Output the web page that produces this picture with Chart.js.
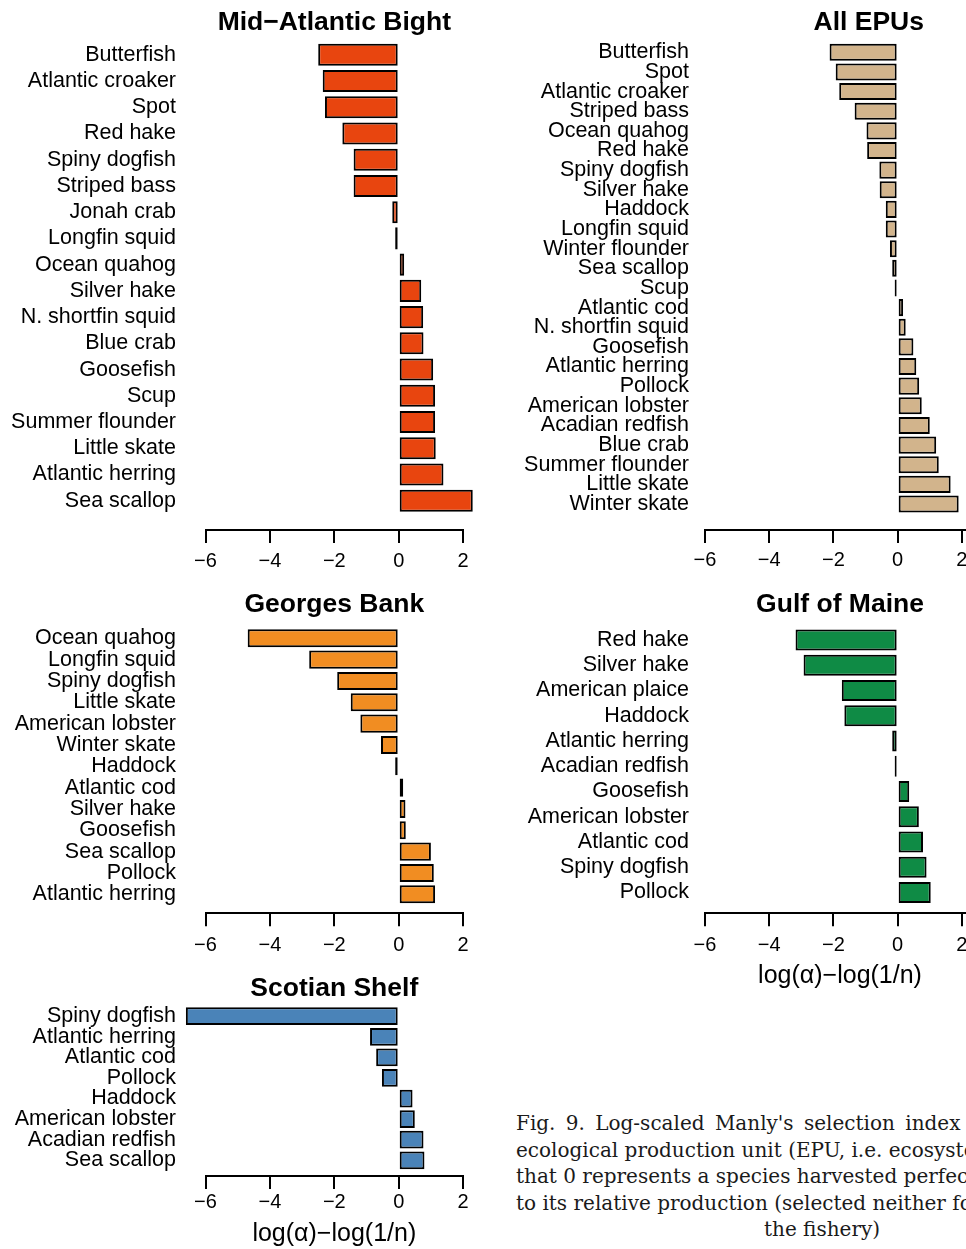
<!DOCTYPE html>
<html lang="en">
<head>
<meta charset="UTF-8">
<title>Log-scaled Manly's selection index by EPU</title>
<script src="https://cdn.jsdelivr.net/npm/chart.js@4"></script>
<style>
  html, body { margin: 0; padding: 0; background: #fff; overflow: hidden; }
  body { width: 966px; height: 1249px; position: relative; }
  canvas { position: absolute; }
  .caption {
    position: absolute; left: 516px;
    font-family: "DejaVu Serif", serif; font-size: 20px; line-height: 26.5px;
    color: #1a1a1a; white-space: nowrap;
  }
</style>
</head>
<body>
<canvas id="mab"></canvas>
<canvas id="epu"></canvas>
<canvas id="gb"></canvas>
<canvas id="gom"></canvas>
<canvas id="ss"></canvas>

<div class="caption" style="top:1110px">
  <div style="word-spacing:4px">Fig. 9. Log-scaled Manly's selection index (α) for each species in each</div>
  <div>ecological production unit (EPU, i.e. ecosystem). Note</div>
  <div>that 0 represents a species harvested perfectly in proportion</div>
  <div>to its relative production (selected neither for nor against by</div>
  <div style="padding-left:248px">the fishery)</div>
</div>

<script>
  // x axis ticks shared by all panels
  const tickValues = [-6, -4, -2, 0, 2];

  // Mid-Atlantic Bight
  const mabSpecies = ['Butterfish', 'Atlantic croaker', 'Spot', 'Red hake', 'Spiny dogfish', 'Striped bass',
    'Jonah crab', 'Longfin squid', 'Ocean quahog', 'Silver hake', 'N. shortfin squid', 'Blue crab',
    'Goosefish', 'Scup', 'Summer flounder', 'Little skate', 'Atlantic herring', 'Sea scallop'];
  const mabValues = [-2.50, -2.36, -2.29, -1.75, -1.40, -1.40, -0.20, -0.11, 0.17, 0.70, 0.76, 0.77,
    1.07, 1.13, 1.13, 1.15, 1.39, 2.30];

  // All EPUs
  const epuSpecies = ['Butterfish', 'Spot', 'Atlantic croaker', 'Striped bass', 'Ocean quahog', 'Red hake',
    'Spiny dogfish', 'Silver hake', 'Haddock', 'Longfin squid', 'Winter flounder', 'Sea scallop', 'Scup',
    'Atlantic cod', 'N. shortfin squid', 'Goosefish', 'Atlantic herring', 'Pollock', 'American lobster',
    'Acadian redfish', 'Blue crab', 'Summer flounder', 'Little skate', 'Winter skate'];
  const epuValues = [-2.12, -1.93, -1.82, -1.34, -0.97, -0.95, -0.57, -0.56, -0.37, -0.37, -0.24, -0.17, -0.04,
    0.17, 0.25, 0.49, 0.58, 0.67, 0.75, 1.00, 1.20, 1.28, 1.65, 1.90];

  // Georges Bank
  const gbSpecies = ['Ocean quahog', 'Longfin squid', 'Spiny dogfish', 'Little skate', 'American lobster',
    'Winter skate', 'Haddock', 'Atlantic cod', 'Silver hake', 'Goosefish', 'Sea scallop', 'Pollock',
    'Atlantic herring'];
  const gbValues = [-4.69, -2.78, -1.91, -1.49, -1.19, -0.55, -0.11, 0.14, 0.21, 0.22, 1.00, 1.09, 1.13];

  // Gulf of Maine
  const gomSpecies = ['Red hake', 'Silver hake', 'American plaice', 'Haddock', 'Atlantic herring',
    'Acadian redfish', 'Goosefish', 'American lobster', 'Atlantic cod', 'Spiny dogfish', 'Pollock'];
  const gomValues = [-3.18, -2.93, -1.74, -1.66, -0.17, -0.03, 0.36, 0.66, 0.79, 0.90, 1.03];

  // Scotian Shelf
  const ssSpecies = ['Spiny dogfish', 'Atlantic herring', 'Atlantic cod', 'Pollock', 'Haddock',
    'American lobster', 'Acadian redfish', 'Sea scallop'];
  const ssValues = [-6.61, -0.89, -0.70, -0.52, 0.43, 0.50, 0.77, 0.80];

  const xLabel = 'log(\u03b1)\u2212log(1/n)';

  const SANS = '"Liberation Sans", Arial, Helvetica, sans-serif';
  const TITLE_SIZE = 26.5;
  const LABEL_SIZE = 21.5;
  const TICK_SIZE = 20;
  const XTITLE_SIZE = 25;
  const TICK_LEN = 13;

  // page layout of each panel (pixels on the page)
  const panels = [
    { id: 'mab', title: 'Mid\u2212Atlantic Bight', labels: mabSpecies, values: mabValues, color: '#E8450F',
      left: 0, top: 0, width: 483, height: 590, yWidth: 205.5, unit: 32.2, labelPad: 29.5, xMax: 2,
      titleY: 22.8, firstBar: 54.7, lastBar: 500.8, axisY: 530, tickY: 561, barPct: 0.84 },
    { id: 'epu', title: 'All EPUs', labels: epuSpecies, values: epuValues, color: '#D2B48C',
      left: 483, top: 0, width: 600, height: 590, yWidth: 222, unit: 32.11, labelPad: 16, xMax: 4.2,
      titleY: 22.8, firstBar: 52.3, lastBar: 504, axisY: 530, tickY: 560.5, barPct: 0.87 },
    { id: 'gb', title: 'Georges Bank', labels: gbSpecies, values: gbValues, color: '#F18D22',
      left: 0, top: 585, width: 483, height: 380, yWidth: 205.5, unit: 32.2, labelPad: 29.5, xMax: 2,
      titleY: 605, firstBar: 638.3, lastBar: 894.3, axisY: 913.3, tickY: 945, barPct: 0.85 },
    { id: 'gom', title: 'Gulf of Maine', labels: gomSpecies, values: gomValues, color: '#0F8B45',
      left: 483, top: 585, width: 530, height: 420, yWidth: 222, unit: 32.11, labelPad: 16, xMax: 2.41,
      titleY: 605, firstBar: 640, lastBar: 892.5, axisY: 913.3, tickY: 945, barPct: 0.84,
      xTitle: xLabel, xTitleY: 976 },
    { id: 'ss', title: 'Scotian Shelf', labels: ssSpecies, values: ssValues, color: '#4A83B8',
      left: 0, top: 965, width: 483, height: 290, yWidth: 205.5, unit: 32.2, labelPad: 29.5, xMax: 2,
      titleY: 988.3, firstBar: 1016.2, lastBar: 1160.3, axisY: 1176, tickY: 1202.5, barPct: 0.86,
      xTitle: xLabel, xTitleY: 1234.5 }
  ];

  function makeChart(p) {
    const cv = document.getElementById(p.id);
    cv.width = p.width;
    cv.height = p.height;
    cv.style.left = p.left + 'px';
    cv.style.top = p.top + 'px';

    const n = p.labels.length;
    const step = (p.lastBar - p.firstBar) / (n - 1);
    const chartTop = p.firstBar - step / 2;
    const chartRight = p.yWidth + (p.xMax + 6) * p.unit;
    const titleLH = TITLE_SIZE * 1.2;
    const titlePadTop = p.titleY - p.top - titleLH / 2;
    const titlePadBottom = chartTop - p.top - titlePadTop - titleLH;
    const xHeight = p.top + p.height - p.axisY;
    const tickPad = p.tickY - p.axisY - TICK_LEN - TICK_SIZE * 1.2 / 2;
    const xTitlePadBottom = p.xTitle ? p.top + p.height - p.xTitleY - XTITLE_SIZE * 1.2 / 2 : 0;

    return new Chart(cv, {
      type: 'bar',
      data: {
        datasets: [{
          data: p.values.map((v, i) => ({ x: v, y: i })),
          backgroundColor: p.color,
          borderColor: '#000',
          borderWidth: 2,
          borderSkipped: false,
          minBarLength: 3,
          barPercentage: p.barPct,
          categoryPercentage: 1,
          clip: false
        }]
      },
      options: {
        indexAxis: 'y',
        responsive: false,
        animation: false,
        layout: { padding: { left: 0, top: 0, bottom: 0, right: p.width - chartRight } },
        plugins: {
          legend: { display: false },
          tooltip: { enabled: false },
          title: {
            display: true,
            text: p.title,
            fullSize: false,
            color: '#000',
            font: { family: SANS, size: TITLE_SIZE, weight: 'bold' },
            padding: { top: titlePadTop, bottom: titlePadBottom }
          }
        },
        scales: {
          x: {
            type: 'linear',
            min: -6,
            max: p.xMax,
            offset: false,
            afterBuildTicks: s => { s.ticks = tickValues.map(v => ({ value: v })); },
            afterFit: s => { s.height = xHeight; },
            border: { display: true, color: '#000', width: 2 },
            grid: { display: true, offset: false, drawOnChartArea: false, drawTicks: true, tickLength: TICK_LEN, color: '#000', lineWidth: 2 },
            ticks: {
              color: '#000',
              autoSkip: false,
              maxRotation: 0,
              padding: tickPad,
              font: { family: SANS, size: TICK_SIZE },
              callback: v => v < 0 ? '\u2212' + Math.abs(v) : String(v)
            },
            title: p.xTitle ? {
              display: true,
              text: p.xTitle,
              color: '#000',
              font: { family: SANS, size: XTITLE_SIZE },
              padding: { top: 0, bottom: xTitlePadBottom }
            } : { display: false }
          },
          y: {
            type: 'linear',
            reverse: true,
            offset: false,
            min: -0.5,
            max: -0.5 + (p.axisY - chartTop) / step,
            afterBuildTicks: s => { s.ticks = p.labels.map((_, i) => ({ value: i })); },
            afterFit: s => { s.width = p.yWidth; },
            border: { display: false },
            grid: { display: false, offset: false, drawTicks: false },
            ticks: {
              color: '#000',
              autoSkip: false,
              padding: p.labelPad,
              font: { family: SANS, size: LABEL_SIZE, lineHeight: 1 },
              callback: v => p.labels[v]
            }
          }
        }
      }
    });
  }

  panels.forEach(makeChart);
</script>
</body>
</html>
